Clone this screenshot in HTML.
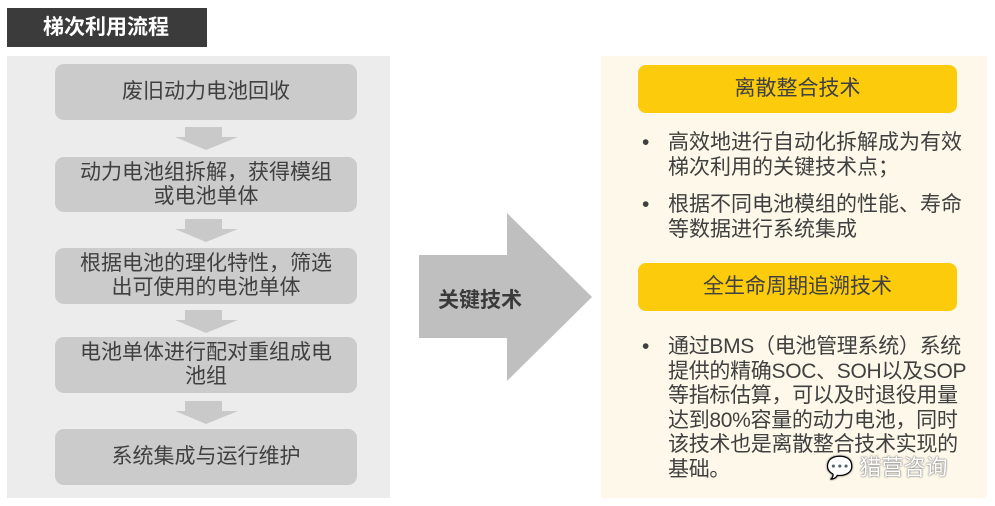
<!DOCTYPE html>
<html><head><meta charset="utf-8"><style>
body{margin:0;width:995px;height:506px;background:#fff;position:relative;overflow:hidden;font-family:"Liberation Sans","Noto Sans CJK SC",sans-serif;color:#404040}
.a{position:absolute}
.title{left:7px;top:8px;width:200px;height:39px;background:#3b3b3b;color:#fff;font-size:21px;font-weight:bold;line-height:39px;padding-left:36px;box-sizing:border-box}
.lp{left:7px;top:56px;width:383px;height:442px;background:#ececec}
.box{left:55px;width:302px;background:#cbcbcb;border-radius:9px;display:flex;align-items:center;justify-content:center;text-align:center;font-size:21px;line-height:24px;white-space:nowrap}
.rp{left:601px;top:56px;width:386px;height:442px;background:#fdf8e9}
.yb{left:638px;width:319px;height:48px;background:#fbcb0c;border-radius:8px;text-align:center;line-height:48px;font-size:21px}
.bl{left:640px;font-size:21px;line-height:24.5px;width:340px;padding-left:28px;box-sizing:border-box;white-space:nowrap}
.bl:before{content:"•";position:absolute;left:2px;top:0}
</style></head><body>
<div class="a title">梯次利用流程</div>
<div class="a lp"></div>
<div class="a box" style="top:64px;height:56px">废旧动力电池回收</div>
<div class="a box" style="top:157px;height:55px">动力电池组拆解，获得模组<br>或电池单体</div>
<div class="a box" style="top:248px;height:56px">根据电池的理化特性，筛选<br>出可使用的电池单体</div>
<div class="a box" style="top:337px;height:56px">电池单体进行配对重组成电<br>池组</div>
<div class="a box" style="top:429px;height:56px">系统集成与运行维护</div>
<svg class="a" style="left:0;top:0" width="995" height="506">
<g fill="#c9c9c9">
<polygon points="185,127 222,127 222,137 238,137 206,150 175,137 185,137"/>
<polygon points="185,219 222,219 222,229 238,229 206,242 175,229 185,229"/>
<polygon points="185,310 222,310 222,320 238,320 206,333 175,320 185,320"/>
<polygon points="185,401 222,401 222,411 238,411 206,424 175,411 185,411"/>
</g>
<polygon points="419,255 507,255 507,213 592,297 507,381 507,338 419,338" fill="#bfbfbf"/>
</svg>
<div class="a" style="left:438px;top:284px;font-size:21px;font-weight:bold;color:#3a3a3a">关键技术</div>
<div class="a rp"></div>
<div class="a yb" style="top:65px">离散整合技术</div>
<div class="a bl" style="top:131px">高效地进行自动化拆解成为有效<br>梯次利用的关键技术点；</div>
<div class="a bl" style="top:193px">根据不同电池模组的性能、寿命<br>等数据进行系统集成</div>
<div class="a yb" style="top:263px">全生命周期追溯技术</div>
<div class="a bl" style="top:335px;letter-spacing:-0.3px">通过BMS（电池管理系统）系统<br>提供的精确SOC、SOH以及SOP<br>等指标估算，可以及时退役用量<br>达到80%容量的动力电池，同时<br>该技术也是离散整合技术实现的<br>基础。</div>
<div class="a" style="left:826px;top:450px;font-size:22px;color:#fff;text-shadow:0 0 2px #777,0 0 1px #555">💬 猎营咨询</div>
</body></html>
